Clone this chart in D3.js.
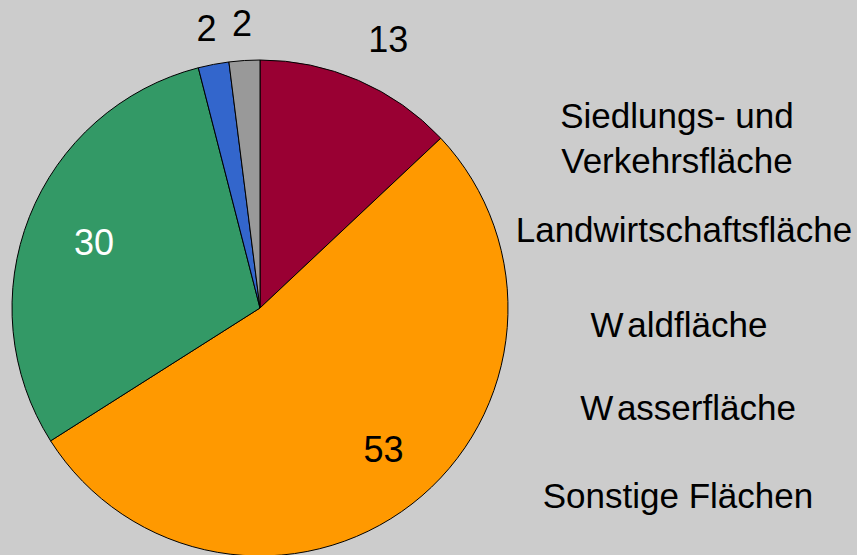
<!DOCTYPE html>
<html>
<head>
<meta charset="utf-8">
<script src="https://cdn.jsdelivr.net/npm/d3@7"></script>
<style>
  body { margin: 0; background: #cccccc; }
  svg { display: block; font-family: "Liberation Sans", Arial, sans-serif; }
</style>
</head>
<body>
<div id="chart"></div>
<script>
const categories = ["Siedlungs- und Verkehrsfläche", "Landwirtschaftsfläche", "Waldfläche", "Wasserfläche", "Sonstige Flächen"];
const values = [13, 53, 30, 2, 2];
const colors = ["#990033", "#ff9900", "#339966", "#3366cc", "#999999"];
const labelColors = ["#000", "#000", "#fff", "#000", "#000"];
const legendLines = [["Siedlungs- und", "Verkehrsfläche"], ["Landwirtschaftsfläche"], ["Waldfläche"], ["Wasserfläche"], ["Sonstige Flächen"]];

const width = 857, height = 555;
const cx = 260, cy = 308, radius = 248;

const svg = d3.select("#chart")
  .append("svg")
  .attr("width", width)
  .attr("height", height);

svg.append("rect").attr("width", width).attr("height", height).attr("fill", "#cccccc");

const data = categories.map((c, i) => ({ name: c, value: values[i], i: i }));

const pie = d3.pie().sort(null).value((d) => d.value);
const arcs = pie(data);

const arc = d3.arc().innerRadius(0).outerRadius(radius);
const inArc = d3.arc().innerRadius(0).outerRadius(radius * 1.44);
const outArc13 = d3.arc().innerRadius(0).outerRadius(radius * 2.4);
const outArc = d3.arc().innerRadius(0).outerRadius(radius * 2.3);

const g = svg.append("g").attr("transform", `translate(${cx}, ${cy})`);

g.selectAll("path")
  .data(arcs)
  .join("path")
  .attr("d", arc)
  .attr("fill", (d) => colors[d.data.i])
  .attr("stroke", "#000")
  .attr("stroke-width", 1);

g.selectAll("text.val")
  .data(arcs)
  .join("text")
  .attr("class", "val")
  .attr("transform", function (d) {
    let a = d.value >= 15 ? inArc : d.value >= 10 ? outArc13 : outArc;
    let p = a.centroid(d);
    // the big labels sit a little further round the slice
    if (d.value >= 10 && d.value < 15) p = [p[0] + 10, p[1] + 4];
    if (d.value > 50) p = [p[0] + 14, p[1]];
    return `translate(${p})`;
  })
  .attr("text-anchor", "middle")
  .attr("dy", "0.36em")
  .attr("font-size", 36)
  .attr("fill", (d) => labelColors[d.data.i])
  .text((d) => d.value);

// legend (text only)
const legendX = [677, 684, 679, 688, 678];
const legendY = [128, 242, 337, 420, 508];
const legend = svg.append("g");
legendLines.forEach(function (lines, i) {
  const t = legend.append("text")
    .attr("x", legendX[i])
    .attr("y", legendY[i])
    .attr("text-anchor", "middle")
    .attr("font-size", 35)
    .attr("fill", "#000");
  lines.forEach(function (l, j) {
    const s = t.append("tspan").attr("x", legendX[i]).attr("dy", j === 0 ? 0 : 45);
    if (l.startsWith("W")) {
      s.text("W");
      t.append("tspan").attr("dx", 5).text(l.slice(1));
    } else {
      s.text(l);
    }
  });
});
</script>
</body>
</html>
